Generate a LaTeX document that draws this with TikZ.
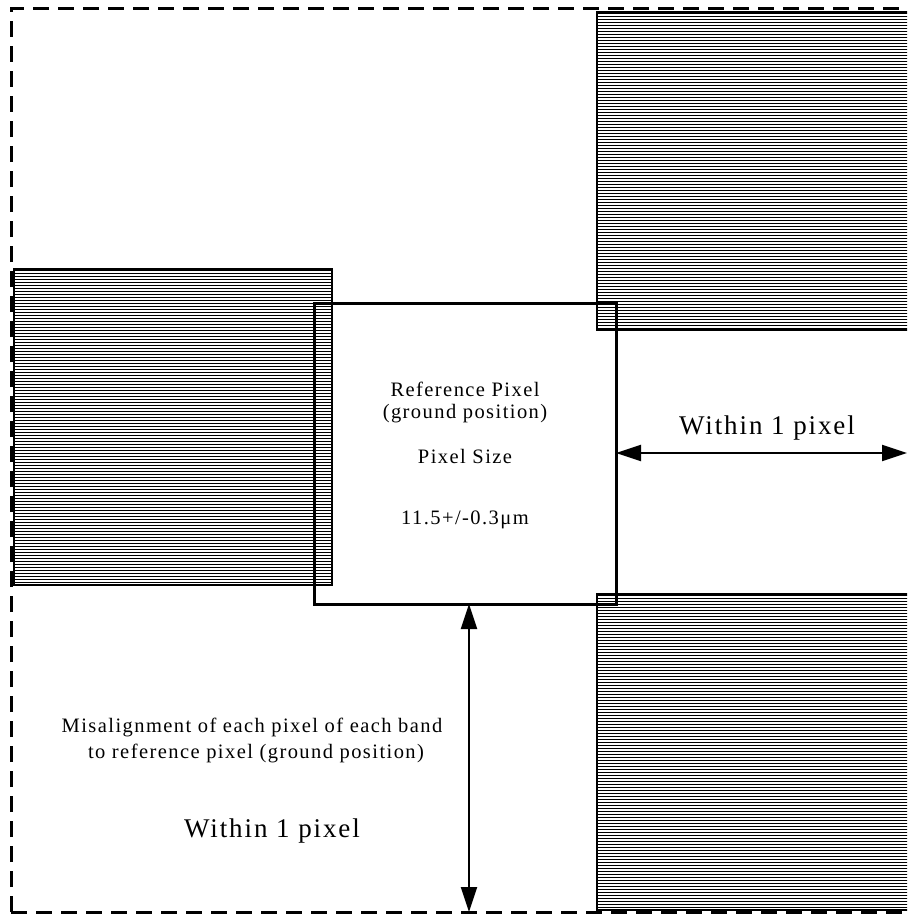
\documentclass[tikz,border=0pt]{standalone}
\usepackage{fontspec}
\setmainfont{Liberation Serif}
\newfontfamily\spacedserif[LetterSpace=7]{Liberation Serif}
\usetikzlibrary{arrows.meta}

\tikzset{
  hatchbox/.style={draw=black, line width=1.5pt},
  refbox/.style={draw=black, line width=3pt},
  frame/.style={draw=black, line width=3pt, dash pattern=on 16pt off 9pt},
  span/.style={line width=2pt,
    {Triangle[length=25pt,width=16pt]}-{Triangle[length=25pt,width=16pt]}},
  smalltxt/.style={font=\spacedserif\fontsize{20.5}{22}\selectfont, inner sep=0pt, anchor=base},
  bigtxt/.style={font=\spacedserif\fontsize{27}{30}\selectfont, inner sep=0pt, anchor=base},
}

% horizontal line hatching inside a rectangle
\newcommand{\linehatch}[4]{%
  \begin{scope}
    \clip (#1,#2) rectangle (#3,#4);
    \pgfmathsetmacro{\ystart}{#2+1.5}
    \pgfmathsetmacro{\ysec}{#2+4.5}
    \foreach \yy in {\ystart,\ysec,...,#4}
      \draw[line width=1.8pt] (#1,\yy) -- (#3,\yy);
  \end{scope}
  \draw[hatchbox] (#1,#2) rectangle (#3,#4);
}

\begin{document}
\begin{tikzpicture}[x=1pt, y=-1pt]
  \useasboundingbox (0,0) rectangle (907,915);
  \fill[white] (0,0) rectangle (907,915);
  \clip (0,0) rectangle (907,915);

  % shaded neighbouring pixels
  \linehatch{14}{269}{332}{585}
  \linehatch{597}{12}{930}{330}
  \linehatch{597}{594}{930}{910}

  % reference pixel
  \draw[refbox] (314,303) rectangle (616,604);
  \coordinate (refE) at (616,453);
  \coordinate (refS) at (469,604);
  \coordinate (rightEnd) at (907,453);
  \coordinate (bottomEnd) at (469,912);

  \node[smalltxt] (t1) at (465,396) {Reference Pixel};
  \node[smalltxt] (t2) at (465,418) {(ground position)};
  \node[smalltxt] (t3) at (465,463) {Pixel Size};
  \node[smalltxt] (t4) at (465,524) {11.5+/-0.3μm};

  % tolerance arrows
  \draw[span] (refE) -- (rightEnd);
  \draw[span] (refS) -- (bottomEnd);

  \node[bigtxt] (w1) at (767,434) {Within 1 pixel};
  \node[smalltxt] (m1) at (252,732) {Misalignment of each pixel of each band};
  \node[smalltxt] (m2) at (256,758) {to reference pixel (ground position)};
  \node[bigtxt] (w2) at (272,837) {Within 1 pixel};

  % outer dashed frame
  \draw[frame] (11,912) -- (11,9) -- (930,9);
  \draw[frame] (11,912) -- (930,912);
\end{tikzpicture}
\end{document}
